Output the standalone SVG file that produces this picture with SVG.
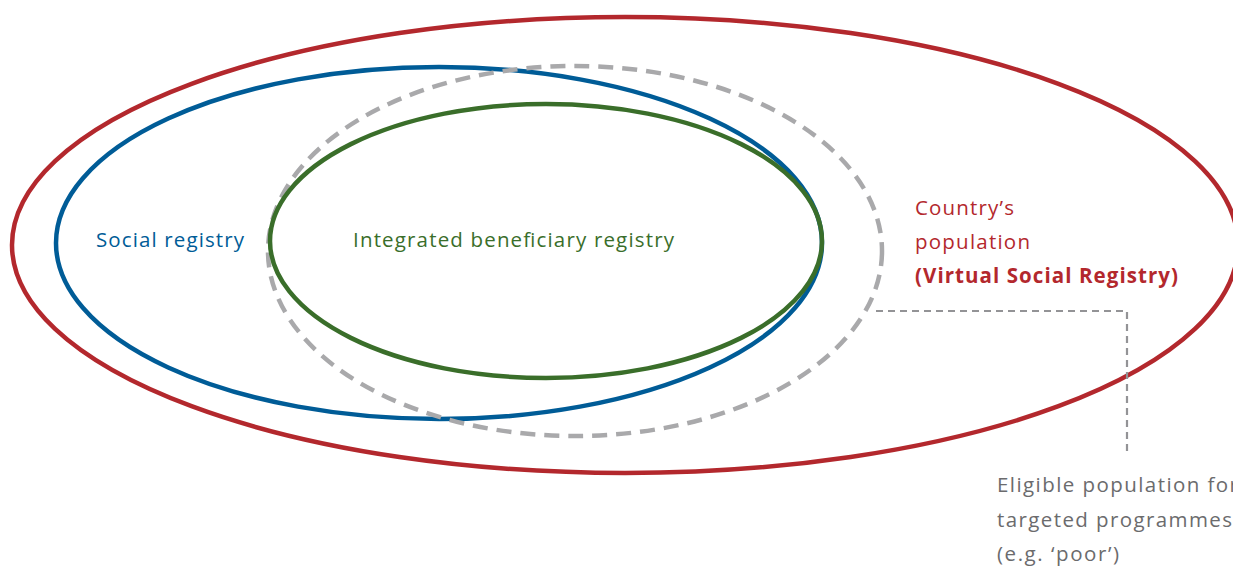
<svg xmlns="http://www.w3.org/2000/svg" width="1233" height="567" viewBox="0 0 1233 567">
  <style>
    .ring { fill: none; stroke-width: 4.5; }
    .lbl { font-family: "Open Sans", Lato, "Noto Sans", sans-serif; font-size: 20.5px; }
  </style>
  <rect width="1233" height="567" fill="#ffffff"/>

  <!-- Country's population -->
  <g id="country">
    <ellipse class="ring" cx="625" cy="245" rx="613" ry="228" stroke="#b3282d"/>
    <text class="lbl" fill="#b3282d" x="915" y="215" textLength="99">Country’s</text>
    <text class="lbl" fill="#b3282d" x="915" y="249" textLength="115">population</text>
    <text class="lbl" fill="#b3282d" x="915" y="283" font-weight="bold" textLength="263">(Virtual Social Registry)</text>
  </g>

  <!-- Social registry -->
  <g id="social">
    <ellipse class="ring" cx="439" cy="243" rx="383" ry="176" stroke="#005c97"/>
    <text class="lbl" fill="#005c97" x="96" y="247" textLength="148">Social registry</text>
  </g>

  <!-- Eligible population -->
  <g id="eligible">
    <ellipse class="ring" cx="575" cy="251" rx="307" ry="185" stroke="#a9a9ab" stroke-dasharray="15 9"/>
    <text class="lbl" fill="#6b6b6d" x="997" y="492" textLength="241">Eligible population for</text>
    <text class="lbl" fill="#6b6b6d" x="997" y="527" textLength="235">targeted programmes</text>
    <text class="lbl" fill="#6b6b6d" x="997" y="561" textLength="122">(e.g. ‘poor’)</text>
  </g>

  <!-- Integrated beneficiary registry -->
  <g id="beneficiary">
    <ellipse class="ring" cx="546" cy="241" rx="276" ry="137" stroke="#3a6e2a"/>
    <text class="lbl" fill="#3a6e2a" x="353" y="247" textLength="321">Integrated beneficiary registry</text>
  </g>

  <g id="connectors">
    <polyline points="876,311 1127,311 1127,452" fill="none" stroke="#939396" stroke-width="2.2" stroke-dasharray="7 5"/>
  </g>
</svg>
